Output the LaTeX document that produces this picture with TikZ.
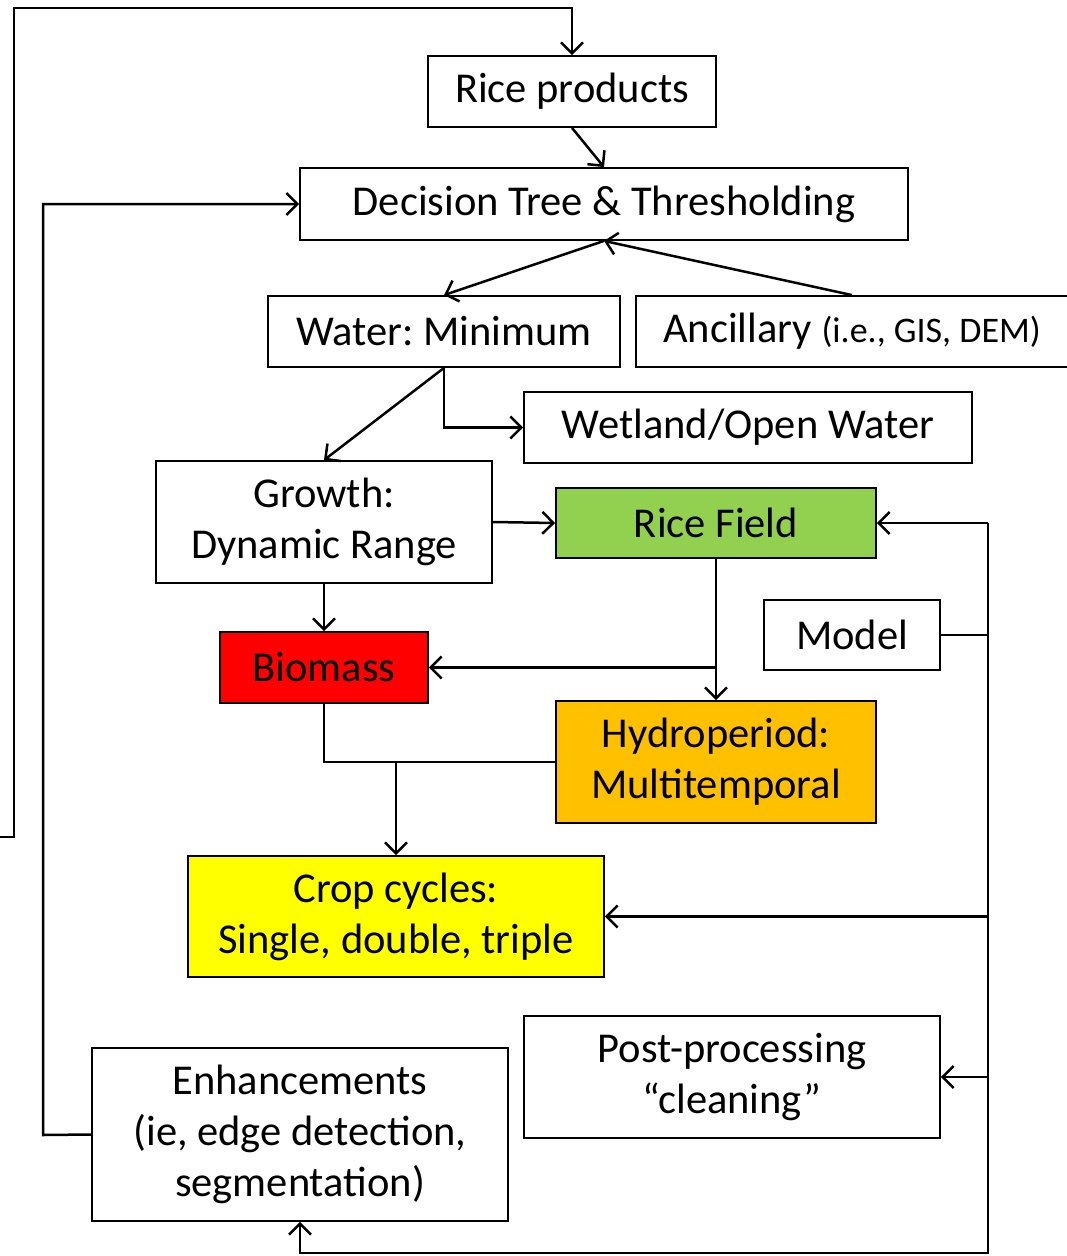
\documentclass[tikz,border=0pt]{standalone}
\usepackage{fontspec}
\setmainfont{Carlito}
\usetikzlibrary{arrows.meta}
\definecolor{ricegreen}{HTML}{92D050}
\definecolor{hydorange}{HTML}{FFC000}
\definecolor{cropyellow}{HTML}{FFFF00}
\definecolor{biored}{HTML}{FF0000}
\frenchspacing
\begin{document}
\begin{tikzpicture}[x=1pt,y=1pt,
  box/.style={draw, line width=1.8pt, inner sep=0pt, align=center, font=\fontsize{42.5}{51}\selectfont},
  conn/.style={line width=2.5pt},
  arr/.style={conn,-{Straight Barb[length=11pt,width=22pt]}}]
\useasboundingbox (0,0) rectangle (1066,-1256);
\node[box, minimum width=288, minimum height=71] (rp) at (572,-91.5) {Rice products};
\node[box, minimum width=608, minimum height=72] (dt) at (604,-204) {Decision Tree \& Thresholding};
\node[box, minimum width=352, minimum height=71] (wm) at (444,-331.5) {Water: Minimum};
\node[box, minimum width=432, minimum height=71] (anc) at (852,-331.5) {Ancillary {\fontsize{36}{40}\selectfont(i.e., GIS, DEM)}};
\node[box, minimum width=448, minimum height=71] (wet) at (748,-427.5) {Wetland/Open Water};
\node[box, minimum width=336, minimum height=122] (gr) at (324,-522) {Growth:\\Dynamic Range};
\node[box, fill=ricegreen, minimum width=320, minimum height=70] (rf) at (716,-523) {Rice Field};
\node[box, minimum width=176, minimum height=70] (mod) at (852,-635) {Model};
\node[box, fill=biored, minimum width=208, minimum height=71] (bio) at (324,-667.5) {Biomass};
\node[box, fill=hydorange, minimum width=320, minimum height=122] (hyd) at (716,-762) {Hydroperiod:\\Multitemporal};
\node[box, fill=cropyellow, minimum width=416, minimum height=121] (cc) at (396,-916.5) {Crop cycles:\\Single, double, triple};
\node[box, minimum width=416, minimum height=122] (pp) at (732,-1077) {Post-processing\\“cleaning”};
\node[box, minimum width=416, minimum height=173] (enh) at (300,-1134.5) {Enhancements\\(ie, edge detection,\\segmentation)};
% frame from left
\coordinate (f0) at (0,-837);
\coordinate (f1) at (14,-8);
\draw[arr] (f0) -| (f1) -| (rp.north);
\draw[arr] (rp.south) -- (dt.north);
\draw[arr] (dt.south) -- (wm.north);
\draw[arr] (anc.north) -- (dt.south);
\draw[arr] (wm.south) -- (gr.north);
\draw[arr] (wm.south) |- (wet.west);
\draw[arr] (gr.east) -- (rf.west);
\draw[arr] (gr.south) -- (bio.north);
\draw[arr] (rf.south) -- (hyd.north);
\draw[arr] (rf.south |- bio.east) -- (bio.east);
\draw[conn] (bio.south) |- (hyd.west);
\draw[arr] (cc.north |- hyd.west) -- (cc.north);
% right bus
\coordinate (busT) at (988,-523);
\coordinate (busB) at (988,-1253);
\draw[arr] (busT) -- (rf.east);
\draw[arr] (busT) -- (busB) -| (enh.south);
\draw[conn] (mod.east) -- (mod.east -| busT);
\draw[arr] (cc.east -| busT) -- (cc.east);
\draw[arr] (pp.east -| busT) -- (pp.east);
% left loop
\coordinate (l2) at (43,-1135);
\draw[arr] (enh.west) -- (l2) |- (dt.west);
\end{tikzpicture}
\end{document}
